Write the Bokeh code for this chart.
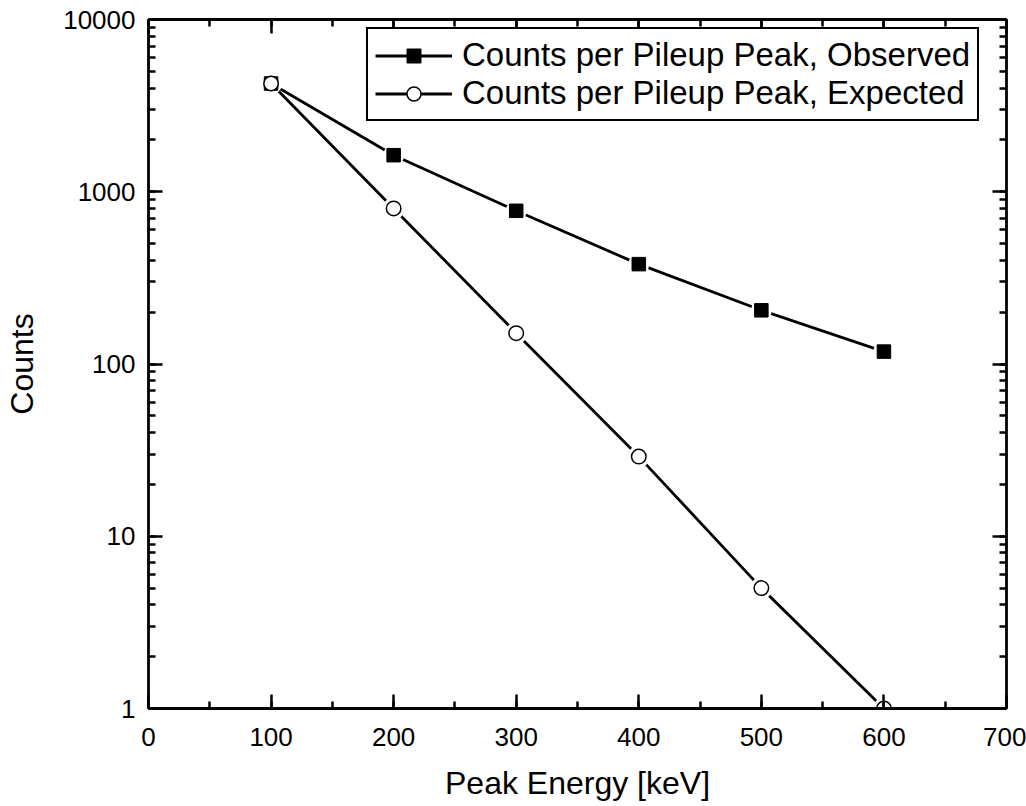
from bokeh.plotting import figure
from bokeh.models import (Range1d, LinearAxis, LogAxis, Legend, LegendItem,
                          NumeralTickFormatter, CustomJSTickFormatter, ColumnDataSource)
from bokeh.embed import file_html
from bokeh.resources import INLINE

energy = [100, 200, 300, 400, 500, 600]
observed = [4250, 1630, 775, 380, 205, 118]
expected = [4250, 800, 151, 29, 5.0, 1.0]

FONT = "Liberation Sans"

p = figure(width=1026, height=806, output_backend="svg", toolbar_location=None,
           x_range=Range1d(0, 700), y_range=Range1d(1, 10000), y_axis_type="log",
           min_border_left=148, min_border_right=20, min_border_top=19,
           min_border_bottom=98, background_fill_color="white",
           border_fill_color="white")
p.outline_line_color = None
p.xgrid.visible = False
p.ygrid.visible = False

def style_axis(ax, labels=True):
    ax.axis_line_color = "black"
    ax.axis_line_width = 2.8
    ax.major_tick_line_color = "black"
    ax.minor_tick_line_color = "black"
    ax.major_tick_line_width = 2.5
    ax.minor_tick_line_width = 2.5
    ax.major_tick_in = 14
    ax.major_tick_out = 0
    ax.minor_tick_in = 7
    ax.minor_tick_out = 0
    ax.major_label_text_font = FONT
    ax.major_label_text_color = "black"
    ax.axis_label_text_font = FONT
    ax.axis_label_text_font_style = "normal"
    ax.axis_label_text_color = "black"
    ax.axis_label_text_font_size = "32px"
    ax.major_label_text_font_size = "26px"
    if not labels:
        ax.major_label_standoff = 0
        ax.formatter = CustomJSTickFormatter(code="return ''")

xa = p.xaxis[0]
ya = p.yaxis[0]
style_axis(xa)
style_axis(ya)
xa.axis_label = "Peak Energy [keV]"
ya.axis_label = "Counts"
xa.ticker.desired_num_ticks = 8
xa.ticker.num_minor_ticks = 2
ya.ticker.num_minor_ticks = 10
ya.formatter = NumeralTickFormatter(format="0")
xa.major_label_standoff = 19
xa.axis_label_standoff = 16
ya.major_label_standoff = 13
ya.axis_label_standoff = 20

top = LinearAxis()
style_axis(top, labels=False)
top.ticker.desired_num_ticks = 8
top.ticker.num_minor_ticks = 2
p.add_layout(top, "above")
right = LogAxis()
style_axis(right, labels=False)
right.ticker.num_minor_ticks = 10
p.add_layout(right, "right")

src_o = ColumnDataSource(dict(x=energy, y=observed))
src_e = ColumnDataSource(dict(x=energy, y=expected))

lo = p.line("x", "y", source=src_o, line_color="black", line_width=2.8)
le = p.line("x", "y", source=src_e, line_color="black", line_width=2.8)
p.scatter("x", "y", source=src_o, marker="circle", size=21, fill_color="white",
          line_color=None)
p.scatter("x", "y", source=src_e, marker="circle", size=22, fill_color="white",
          line_color=None)
mo = p.scatter("x", "y", source=src_o, marker="square", size=13.5,
               fill_color="black", line_color="black", line_width=1)
me = p.scatter("x", "y", source=src_e, marker="circle", size=14.5,
               fill_color="white", line_color="black", line_width=1.5)

legend = Legend(items=[
    LegendItem(label="Counts per Pileup Peak, Observed", renderers=[lo, mo]),
    LegendItem(label="Counts per Pileup Peak, Expected", renderers=[le, me]),
], location=(218, 587))
legend.label_text_font = FONT
legend.label_text_font_size = "33px"
legend.label_text_color = "black"
legend.glyph_width = 77
legend.glyph_height = 35
legend.label_height = 35
legend.label_standoff = 10
legend.spacing = 0
legend.padding = 7
legend.margin = 0
legend.border_line_color = "black"
legend.border_line_alpha = 1
legend.border_line_width = 2
legend.background_fill_color = "white"
legend.background_fill_alpha = 1
p.add_layout(legend, "center")

open("out.html", "w").write(file_html(p, INLINE))
